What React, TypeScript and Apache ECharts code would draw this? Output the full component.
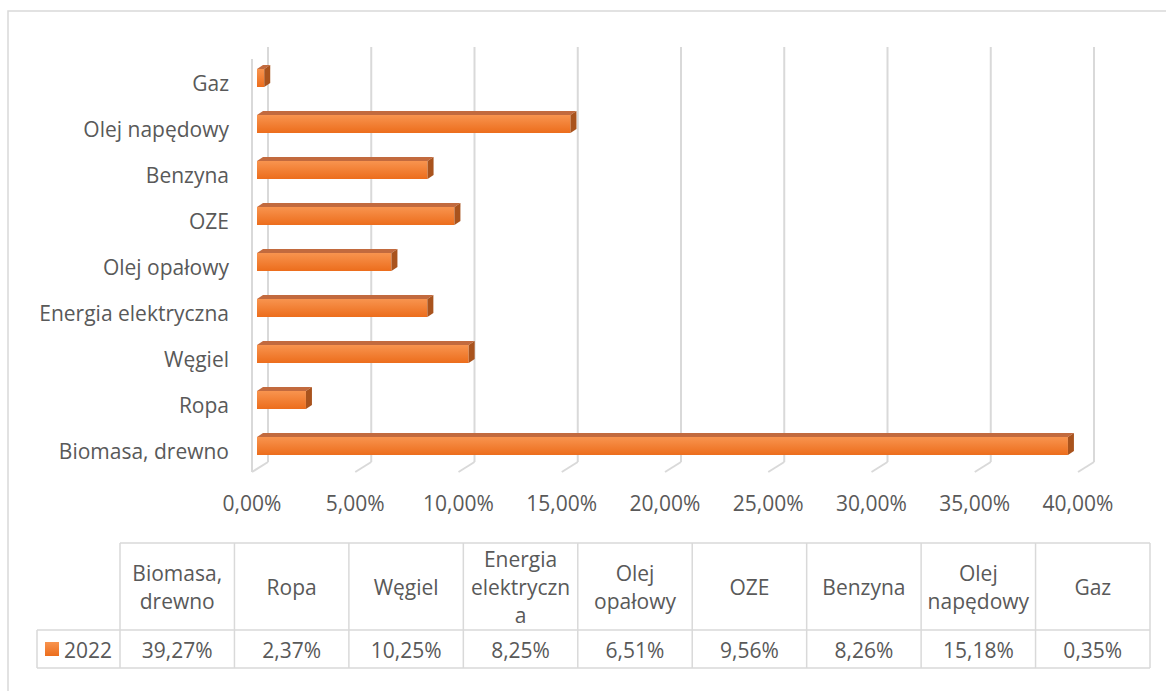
import React, { useEffect, useRef } from "react";
import * as echarts from "echarts";

const categories = [
  "Biomasa, drewno",
  "Ropa",
  "Węgiel",
  "Energia elektryczna",
  "Olej opałowy",
  "OZE",
  "Benzyna",
  "Olej napędowy",
  "Gaz",
];
const values2022 = [39.27, 2.37, 10.25, 8.25, 6.51, 9.56, 8.26, 15.18, 0.35];
const tableHeaders = [
  "Biomasa,\ndrewno",
  "Ropa",
  "Węgiel",
  "Energia\nelektryczn\na",
  "Olej\nopałowy",
  "OZE",
  "Benzyna",
  "Olej\nnapędowy",
  "Gaz",
];
const seriesName = "2022";
const xTicks = [0, 5, 10, 15, 20, 25, 30, 35, 40];

const FONT = "'Open Sans', 'Noto Sans', sans-serif";
const FS = 21;
const TEXT = "#595959";
const GRID = "#D9D9D9";

const fmt = (v: number) => v.toFixed(2).replace(".", ",") + "%";

export default function App() {
  const ref = useRef<HTMLDivElement>(null);
  useEffect(() => {
    if (!ref.current) return;
    const chart = echarts.init(ref.current, null, { renderer: "svg" });
    const frontGrad = () =>
      new echarts.graphic.LinearGradient(0, 0, 0, 1, [
        { offset: 0, color: "#F8944F" },
        { offset: 1, color: "#EC6D1C" },
      ]);

    // table layout
    const tLeft = 120, tRight = 1150, tLegendLeft = 37;
    const tTop = 543, tMid = 630, tBot = 668;
    const colW = (tRight - tLeft) / categories.length;
    const lineStyle = { stroke: GRID, lineWidth: 1.5 };
    const g: any[] = [];
    g.push({ type: "rect", shape: { x: 8, y: 11, width: 1300, height: 800 }, style: { fill: "none", stroke: GRID, lineWidth: 1.5 }, silent: true });
    g.push({ type: "line", shape: { x1: tLeft, y1: tTop, x2: tRight, y2: tTop }, style: lineStyle });
    g.push({ type: "line", shape: { x1: tLegendLeft, y1: tMid, x2: tRight, y2: tMid }, style: lineStyle });
    g.push({ type: "line", shape: { x1: tLegendLeft, y1: tBot, x2: tRight, y2: tBot }, style: lineStyle });
    g.push({ type: "line", shape: { x1: tLegendLeft, y1: tMid, x2: tLegendLeft, y2: tBot }, style: lineStyle });
    for (let i = 0; i <= categories.length; i++) {
      const x = tLeft + i * colW;
      g.push({ type: "line", shape: { x1: x, y1: tTop, x2: x, y2: tBot }, style: lineStyle });
    }
    tableHeaders.forEach((h, i) => {
      g.push({
        type: "text",
        x: tLeft + (i + 0.5) * colW,
        y: (tTop + tMid) / 2,
        style: { text: h, fill: TEXT, font: `${FS}px ${FONT}`, textAlign: "center", textVerticalAlign: "middle", lineHeight: 28 },
      });
    });
    values2022.forEach((v, i) => {
      g.push({
        type: "text",
        x: tLeft + (i + 0.5) * colW,
        y: (tMid + tBot) / 2 + 1,
        style: { text: fmt(v), fill: TEXT, font: `${FS}px ${FONT}`, textAlign: "center", textVerticalAlign: "middle" },
      });
    });
    g.push({ type: "rect", shape: { x: 45, y: 642, width: 14, height: 14 }, style: { fill: frontGrad() } });
    g.push({
      type: "text",
      x: 64,
      y: (tMid + tBot) / 2 + 1,
      style: { text: seriesName, fill: TEXT, font: `${FS}px ${FONT}`, textAlign: "left", textVerticalAlign: "middle" },
    });

    const option: any = {
      animation: false,
      backgroundColor: "#fff",
      grid: { left: 252, right: 88, top: 60, bottom: 217, containLabel: false },
      xAxis: {
        type: "value",
        min: 0,
        max: 40,
        interval: 5,
        axisLine: { show: false },
        axisTick: { show: false },
        splitLine: { show: false },
        axisLabel: { color: TEXT, fontSize: FS, fontFamily: FONT, margin: 17, lineHeight: 24, formatter: (v: number) => fmt(v) },
      },
      yAxis: {
        type: "category",
        data: categories,
        axisLine: { show: false },
        axisTick: { show: false },
        axisLabel: { color: TEXT, fontSize: FS, fontFamily: FONT, margin: 23 },
      },
      series: [
        {
          type: "custom",
          name: "walls",
          silent: true,
          z: 1,
          data: xTicks.map((t) => [t, 0]),
          encode: { x: 0, y: 1 },
          renderItem: (params: any, api: any) => {
            const v = api.value(0);
            const x = api.coord([v, 0])[0];
            const cs = params.coordSys;
            const bottom = cs.y + cs.height;
            const fy = bottom - 2;
            const by = fy - 10;
            const ty = cs.y - 13;
            const st = { stroke: GRID, lineWidth: 2 };
            const ch: any[] = [
              { type: "line", shape: { x1: x + 16, y1: ty, x2: x + 16, y2: by }, style: st },
              { type: "line", shape: { x1: x, y1: fy, x2: x + 16, y2: by }, style: st },
            ];
            if (v === 0) ch.push({ type: "line", shape: { x1: x, y1: ty + 12, x2: x, y2: fy }, style: st });
            return { type: "group", children: ch };
          },
        },
        {
          type: "custom",
          name: seriesName,
          z: 2,
          data: values2022.map((v, i) => [v, i]),
          encode: { x: 0, y: 1 },
          renderItem: (params: any, api: any) => {
            const v = api.value(0);
            const c = api.value(1);
            const p0 = api.coord([0, c]);
            const p1 = api.coord([v, c]);
            const x0 = p0[0] + 5;
            const x1 = p1[0] + 5;
            const yc = p0[1] - 5;
            const yt = yc - 9;
            const yb = yc + 9;
            const dx = 6, dy = -4;
            return {
              type: "group",
              children: [
                { type: "rect", shape: { x: x0, y: yt, width: x1 - x0, height: yb - yt }, style: { fill: frontGrad() } },
                { type: "polygon", shape: { points: [[x0, yt], [x0 + dx, yt + dy], [x1 + dx, yt + dy], [x1, yt]] }, style: { fill: "#C26A3E" } },
                { type: "polygon", shape: { points: [[x1, yt], [x1 + dx, yt + dy], [x1 + dx, yb + dy], [x1, yb]] }, style: { fill: "#A9531D" } },
              ],
            };
          },
        },
      ],
      graphic: g,
    };
    chart.setOption(option);
    return () => chart.dispose();
  }, []);
  return <div ref={ref} style={{ position: "fixed", left: 0, top: 0, width: 1166, height: 691 }} />;
}
